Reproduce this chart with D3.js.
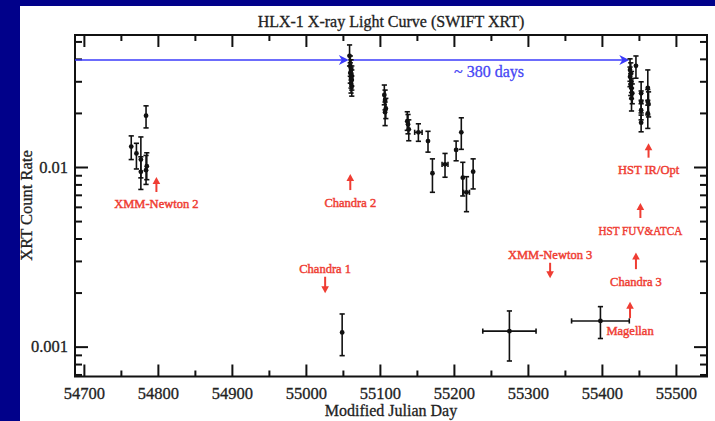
<!DOCTYPE html>
<html>
<head>
<meta charset="utf-8">
<script src="https://cdn.jsdelivr.net/npm/d3@7"></script>
<style>
  html, body { margin: 0; padding: 0; background: #01018a; }
  svg { display: block; }
  text { font-family: "Liberation Serif", "DejaVu Serif", serif; }
</style>
</head>
<body>
<script>
// Swift XRT observations of HLX-1: MJD, MJD half-width, count rate and its error range
const mjd     = [54764, 54771, 54777, 54777, 54784, 54785, 54784,
                55059, 55060, 55061, 55060, 55062, 55061, 55062, 55061, 55062,
                55106, 55107, 55108, 55107, 55137, 55138, 55139,
                55152, 55165, 55171, 55188, 55203, 55210, 55212, 55217, 55226,
                55438, 55439, 55438, 55440, 55439, 55440, 55441, 55440,
                55446, 55453, 55453, 55453, 55453, 55462, 55462, 55463, 55462,
                55049, 55275, 55398];
const mjdErr  = [0, 0, 0, 0, 0, 0, 0,
                0, 0, 0, 0, 0, 0, 0, 0, 0,
                0, 0, 0, 0, 0, 0, 0,
                5, 0, 0, 4, 0, 0, 0, 4, 0,
                0, 0, 0, 0, 0, 0, 0, 0,
                0, 0, 0, 0, 0, 0, 0, 0, 0,
                0, 36, 39];
const rate    = [0.0130, 0.0119, 0.0110, 0.0094, 0.0096, 0.0101, 0.0193,
                0.0416, 0.0365, 0.0347, 0.0334, 0.0321, 0.0313, 0.0305, 0.0293, 0.0282,
                0.0252, 0.0236, 0.0212, 0.0202, 0.0180, 0.0173, 0.0162,
                0.0156, 0.01395, 0.00923, 0.01035, 0.01244, 0.0156, 0.00872, 0.00723, 0.00942,
                0.0347, 0.0332, 0.0318, 0.0299, 0.0286, 0.0274, 0.0257, 0.0241,
                0.0366, 0.0257, 0.0231, 0.0207, 0.01766, 0.0276, 0.0231, 0.0224, 0.0199,
                0.00120, 0.00122, 0.00139];
const rateLo  = [0.0110, 0.00975, 0.0087, 0.0075, 0.0080, 0.0085, 0.0165,
                0.0365, 0.0320, 0.0305, 0.0293, 0.0282, 0.0275, 0.0268, 0.0258, 0.0248,
                0.0222, 0.0208, 0.0186, 0.0170, 0.0160, 0.0153, 0.0140,
                0.0139, 0.0121, 0.00723, 0.00877, 0.01083, 0.01254, 0.0069, 0.00564, 0.00755,
                0.0300, 0.0290, 0.0280, 0.0260, 0.0250, 0.0240, 0.0225, 0.0205,
                0.0312, 0.0225, 0.0200, 0.0183, 0.0157, 0.0221, 0.0195, 0.0190, 0.0164,
                0.000891, 0.000832, 0.00111];
const rateHi  = [0.0149, 0.01355, 0.0147, 0.0114, 0.0116, 0.0120, 0.0219,
                0.0478, 0.0415, 0.0395, 0.0380, 0.0365, 0.0356, 0.0347, 0.0333, 0.0321,
                0.0286, 0.0268, 0.0241, 0.0230, 0.0203, 0.0196, 0.0183,
                0.0174, 0.0158, 0.0111, 0.0119, 0.01395, 0.01879, 0.01062, 0.00883, 0.0111,
                0.0400, 0.0380, 0.0360, 0.0340, 0.0330, 0.0310, 0.0290, 0.0275,
                0.0415, 0.0298, 0.0265, 0.0235, 0.01945, 0.0347, 0.0270, 0.0262, 0.0235,
                0.00152, 0.00158, 0.00167];

// Axis ticks
const xMajorTicks = [54700, 54800, 54900, 55000, 55100, 55200, 55300, 55400, 55500];
const xMinorTicks = [54750, 54850, 54950, 55050, 55150, 55250, 55350, 55450];
const yMajorTicks = [0.001, 0.01];
const yTickLabels = ["0.001", "0.01"];
const yMinorTicks = [0.0007, 0.0008, 0.0009, 0.002, 0.003, 0.004, 0.005, 0.006, 0.007,
                     0.008, 0.009, 0.02, 0.03, 0.04, 0.05];

// Other-observatory campaigns: label, MJD, arrow tail and tip (count-rate units)
const obsLabels = ["XMM-Newton 2", "Chandra 2", "Chandra 1", "XMM-Newton 3",
                   "Chandra 3", "HST FUV&ATCA", "HST IR/Opt", "Magellan"];
const obsMjd    = [54798, 55060, 55026, 55330, 55446, 55452, 55463, 55438];
const obsTail   = [0.00726, 0.00744, 0.00245, 0.00293, 0.00270, 0.00520, 0.01127, 0.00144];
const obsTip    = [0.00880, 0.00914, 0.00198, 0.00240, 0.00334, 0.00630, 0.01355, 0.00178];

// Recurrence interval between outbursts
const outburstMjd = [54688, 55058, 55437];
const outburstRate = 0.0394;
const recurrenceLabel = "~ 380 days";

const W = 715, H = 421;
const plot = { left: 75, right: 707, top: 35, bottom: 376.5 };

const x = d3.scaleLinear().domain([54688, 55542]).range([plot.left, plot.right]);
const y = d3.scaleLog().domain([0.000682, 0.0543]).range([plot.bottom, plot.top]);

const svg = d3.select("body").append("svg").attr("width", W).attr("height", H);

// navy slide background and white panel
svg.append("rect").attr("width", W).attr("height", H).attr("fill", "#01018a");
svg.append("rect").attr("x", 20).attr("y", 6).attr("width", W - 20).attr("height", H - 6)
  .attr("fill", "#ffffff");

const axisColor = "#111";
const inkColor = "#222";
function styleAxis(g) {
  g.select(".domain").remove();
  g.selectAll(".tick line").attr("stroke", axisColor).attr("stroke-width", 2);
  g.selectAll(".tick text")
    .attr("fill", inkColor)
    .attr("stroke", inkColor).attr("stroke-width", 0.3)
    .style("font-family", "'Liberation Serif', serif")
    .style("font-size", "16.5px");
}

// bottom axis
svg.append("g").attr("transform", `translate(0,${plot.bottom})`)
  .call(d3.axisBottom(x).tickValues(xMajorTicks).tickSize(-12).tickPadding(10.5).tickFormat(d3.format("d")))
  .call(styleAxis);
svg.append("g").attr("transform", `translate(0,${plot.bottom})`)
  .call(d3.axisBottom(x).tickValues(xMinorTicks).tickSize(-6).tickFormat(""))
  .call(styleAxis);
// top axis
svg.append("g").attr("transform", `translate(0,${plot.top})`)
  .call(d3.axisTop(x).tickValues(xMajorTicks).tickSize(-12).tickFormat(""))
  .call(styleAxis);
svg.append("g").attr("transform", `translate(0,${plot.top})`)
  .call(d3.axisTop(x).tickValues(xMinorTicks).tickSize(-6).tickFormat(""))
  .call(styleAxis);
// left axis
svg.append("g").attr("transform", `translate(${plot.left},0)`)
  .call(d3.axisLeft(y).tickValues(yMajorTicks).tickSize(-13).tickPadding(7)
    .tickFormat((d, i) => yTickLabels[i]))
  .call(styleAxis);
svg.append("g").attr("transform", `translate(${plot.left},0)`)
  .call(d3.axisLeft(y).tickValues(yMinorTicks).tickSize(-7).tickFormat(""))
  .call(styleAxis);
// right axis
svg.append("g").attr("transform", `translate(${plot.right},0)`)
  .call(d3.axisRight(y).tickValues(yMajorTicks).tickSize(-13).tickFormat(""))
  .call(styleAxis);
svg.append("g").attr("transform", `translate(${plot.right},0)`)
  .call(d3.axisRight(y).tickValues(yMinorTicks).tickSize(-7).tickFormat(""))
  .call(styleAxis);

// frame
svg.append("rect")
  .attr("x", plot.left).attr("y", plot.top)
  .attr("width", plot.right - plot.left).attr("height", plot.bottom - plot.top)
  .attr("fill", "none").attr("stroke", axisColor).attr("stroke-width", 2);

// titles
function label(sel, size) {
  return sel.attr("fill", inkColor).attr("stroke", inkColor).attr("stroke-width", 0.3)
    .style("font-size", size);
}
label(svg.append("text").attr("x", (plot.left + plot.right) / 2).attr("y", 27)
  .attr("text-anchor", "middle"), "16px")
  .text("HLX-1 X-ray Light Curve (SWIFT XRT)");
label(svg.append("text").attr("x", (plot.left + plot.right) / 2).attr("y", 415.5)
  .attr("text-anchor", "middle"), "16px")
  .text("Modified Julian Day");
label(svg.append("text").attr("transform", "translate(32,205.5) rotate(-90)")
  .attr("text-anchor", "middle"), "16.5px")
  .text("XRT Count Rate");

// recurrence arrows
const blue = "#3b3bfb";
const bg = svg.append("g");
for (let i = 0; i < outburstMjd.length - 1; i++) {
  const x0 = x(outburstMjd[i]), x1 = x(outburstMjd[i + 1]), yy = y(outburstRate);
  bg.append("line").attr("x1", x0).attr("x2", x1 - 6).attr("y1", yy).attr("y2", yy)
    .attr("stroke", blue).attr("stroke-width", 1.5);
  bg.append("path")
    .attr("d", `M${x1},${yy} L${x1 - 10},${yy - 5} L${x1 - 7},${yy} L${x1 - 10},${yy + 5} Z`)
    .attr("fill", blue);
}
bg.append("text")
  .attr("x", x((outburstMjd[1] + outburstMjd[2]) / 2))
  .attr("y", y(outburstRate) + 17)
  .attr("text-anchor", "middle").attr("fill", "#4646f5")
  .attr("stroke", "#4646f5").attr("stroke-width", 0.3)
  .style("font-size", "16px")
  .text(recurrenceLabel);

// campaign arrows
const red = "#ef3d33";
const rg = svg.append("g");
obsLabels.forEach((name, i) => {
  const xx = x(obsMjd[i]);
  const yt = y(obsTail[i]), yh = y(obsTip[i]);
  const dir = yh < yt ? -1 : 1;    // -1: arrow points up
  rg.append("line").attr("x1", xx).attr("x2", xx).attr("y1", yt).attr("y2", yh - dir * 5)
    .attr("stroke", red).attr("stroke-width", 2);
  rg.append("path")
    .attr("d", `M${xx},${yh} L${xx - 3.8},${yh - dir * 7} L${xx + 3.8},${yh - dir * 7} Z`)
    .attr("fill", red);
  const t = rg.append("text").attr("x", xx)
    .attr("y", dir < 0 ? yt + 16.5 : yt - 3.5)
    .attr("text-anchor", "middle").attr("fill", red)
    .attr("stroke", red).attr("stroke-width", 0.45)
    .style("font-size", "12.5px")
    .text(name);
  if (name === "HST FUV&ATCA") t.attr("textLength", 84).attr("lengthAdjust", "spacingAndGlyphs");
});

// error bars and points
const pg = svg.append("g").attr("stroke", "#111").attr("stroke-width", 1.6);
const cap = 2.6;
mjd.forEach((m, i) => {
  const cx = x(m), cy = y(rate[i]);
  const yl = y(rateLo[i]), yh = y(rateHi[i]);
  pg.append("line").attr("x1", cx).attr("x2", cx).attr("y1", yl).attr("y2", yh);
  pg.append("line").attr("x1", cx - cap).attr("x2", cx + cap).attr("y1", yl).attr("y2", yl);
  pg.append("line").attr("x1", cx - cap).attr("x2", cx + cap).attr("y1", yh).attr("y2", yh);
  if (mjdErr[i] > 0) {
    const xl = x(m - mjdErr[i]), xr = x(m + mjdErr[i]);
    pg.append("line").attr("x1", xl).attr("x2", xr).attr("y1", cy).attr("y2", cy);
    pg.append("line").attr("x1", xl).attr("x2", xl).attr("y1", cy - cap).attr("y2", cy + cap);
    pg.append("line").attr("x1", xr).attr("x2", xr).attr("y1", cy - cap).attr("y2", cy + cap);
  }
  pg.append("circle").attr("cx", cx).attr("cy", cy).attr("r", 2.4)
    .attr("fill", "#111").attr("stroke", "none");
});
</script>
</body>
</html>
